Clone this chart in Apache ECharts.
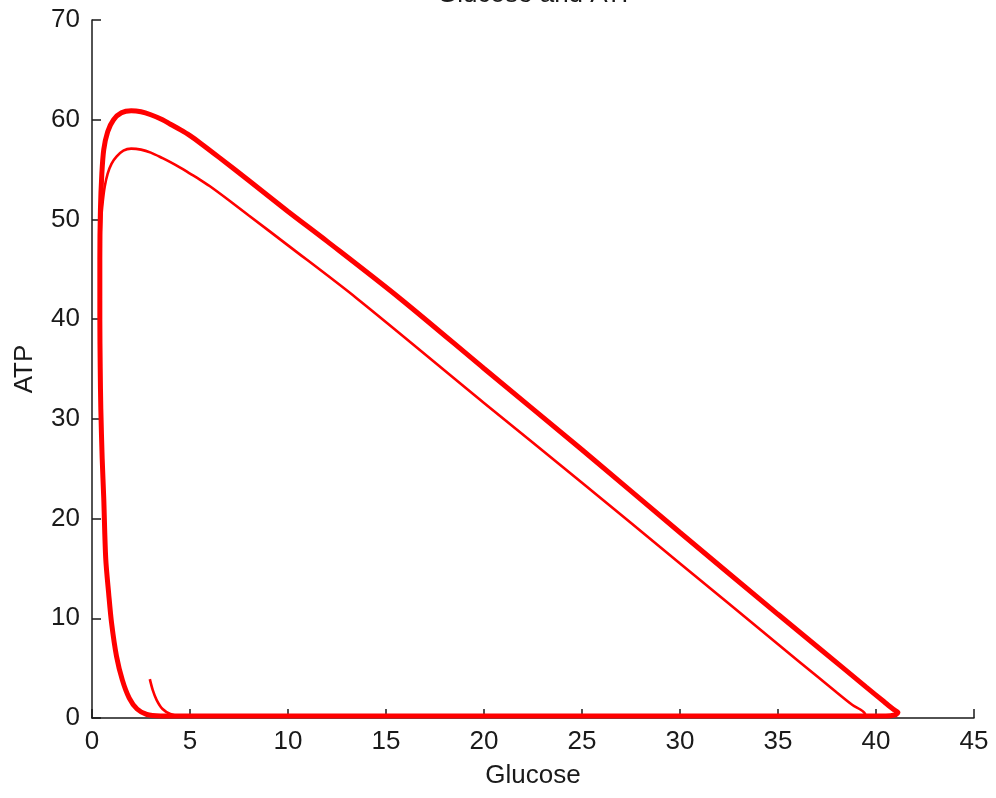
<!DOCTYPE html>
<html>
<head>
<meta charset="utf-8">
<script src="https://cdn.jsdelivr.net/npm/echarts@6/dist/echarts.min.js"></script>
<style>
html,body{margin:0;padding:0;background:#fff;}
#chart{width:996px;height:798px;}
</style>
</head>
<body>
<div id="chart"></div>
<script>
// Transient (first loop, thin line)
var transientGlucose = [2.95, 3.1, 3.3, 3.6, 4.0, 4.5, 10, 20, 30, 38, 39.1, 39.45, 39.4, 39.2, 38.8, 38.0, 37.1, 35, 30, 25, 20, 13.5, 10, 8, 7.0, 6.0, 5.5, 5.0, 4.5, 4.0, 3.6, 3.0, 2.5, 2.0, 1.6, 1.25, 1.0, 0.8, 0.65, 0.55, 0.47, 0.42, 0.4];
var transientATP     = [3.9, 2.8, 1.8, 0.9, 0.4, 0.2, 0.2, 0.2, 0.2, 0.2, 0.2, 0.32, 0.55, 0.85, 1.3, 2.55, 4.0, 7.4, 15.5, 23.6, 31.6, 42.1, 47.4, 50.4, 51.9, 53.35, 54.0, 54.6, 55.2, 55.75, 56.15, 56.7, 57.0, 57.1, 56.9, 56.3, 55.6, 54.6, 53.3, 51.8, 50.0, 47.0, 44.0];
// Limit cycle (repeated loop, thick line)
var cycleGlucose = [3.5, 10, 20, 30, 38, 40.5, 40.95, 41.12, 40.9, 40.4, 39.5, 37.1, 35, 30, 25, 20, 15.7, 12, 10, 8, 6.5, 5.5, 5.0, 4.5, 4.0, 3.6, 3.0, 2.5, 2.0, 1.5, 1.1, 0.8, 0.6, 0.5, 0.43, 0.4, 0.4, 0.42, 0.45, 0.52, 0.6, 0.7, 0.85, 1.0, 1.25, 1.55, 1.9, 2.3, 2.8, 3.5];
var cycleATP     = [0.2, 0.2, 0.2, 0.2, 0.2, 0.2, 0.3, 0.55, 0.85, 1.65, 3.1, 7.0, 10.4, 18.6, 26.9, 35.05, 42.1, 47.8, 50.8, 53.9, 56.2, 57.7, 58.4, 59.0, 59.55, 60.0, 60.5, 60.8, 60.9, 60.7, 60.0, 58.8, 57.0, 54.5, 51.0, 46.0, 40.0, 35.0, 31.0, 26.0, 22.0, 16.0, 12.5, 9.5, 6.2, 3.8, 2.0, 0.9, 0.35, 0.2];
var xTicks = [0, 5, 10, 15, 20, 25, 30, 35, 40, 45];
var yTicks = [0, 10, 20, 30, 40, 50, 60, 70];

function zip(a, b) { return a.map(function (v, i) { return [v, b[i]]; }); }

var FONT = "'Liberation Sans', Arial, sans-serif";
var TXT = '#1a1a1a';
var chart = echarts.init(document.getElementById('chart'), null, {renderer: 'canvas'});
chart.setOption({
  animation: false,
  backgroundColor: '#ffffff',
  title: {
    text: 'Glucose and ATP',
    left: 533,
    textAlign: 'center',
    top: -23,
    textStyle: {fontFamily: FONT, fontSize: 26, fontWeight: 'normal', color: TXT}
  },
  grid: {left: 92, right: 22, top: 20, bottom: 80},
  xAxis: {
    type: 'value',
    min: xTicks[0], max: xTicks[xTicks.length - 1], interval: 5,
    name: 'Glucose', nameLocation: 'middle', nameGap: 45,
    nameTextStyle: {fontFamily: FONT, fontSize: 26, color: TXT},
    axisLine: {show: true, onZero: false, lineStyle: {color: TXT, width: 1.5}},
    axisTick: {show: true, inside: true, length: 9, lineStyle: {color: TXT, width: 1.5}},
    axisLabel: {fontFamily: FONT, fontSize: 26, color: TXT, margin: 11},
    splitLine: {show: false}
  },
  yAxis: {
    type: 'value',
    min: yTicks[0], max: yTicks[yTicks.length - 1], interval: 10,
    name: 'ATP', nameLocation: 'middle', nameGap: 54, nameRotate: 90,
    nameTextStyle: {fontFamily: FONT, fontSize: 26, color: TXT},
    axisLine: {show: true, onZero: false, lineStyle: {color: TXT, width: 1.5}},
    axisTick: {show: true, inside: true, length: 9, lineStyle: {color: TXT, width: 1.5}},
    axisLabel: {fontFamily: FONT, fontSize: 26, color: TXT, margin: 12},
    splitLine: {show: false}
  },
  series: [
    {
      type: 'line', data: zip(cycleGlucose, cycleATP), showSymbol: false, smooth: 0.3,
      lineStyle: {color: '#ff0000', width: 5}, clip: false, z: 2
    },
    {
      type: 'line', data: zip(transientGlucose, transientATP), showSymbol: false, smooth: 0.3,
      lineStyle: {color: '#ff0000', width: 2.6}, clip: false, z: 3
    }
  ]
});
</script>
</body>
</html>
